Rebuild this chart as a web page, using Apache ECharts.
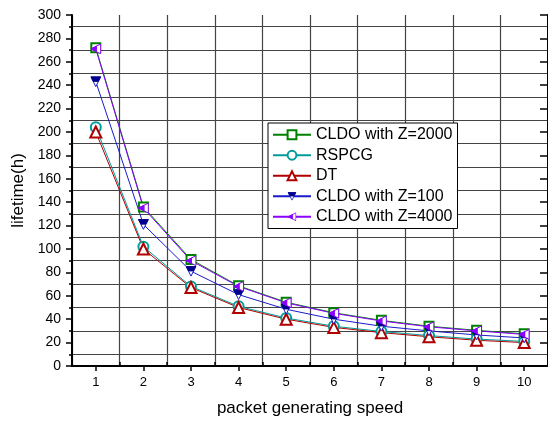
<!DOCTYPE html>
<html>
<head>
<meta charset="utf-8">
<script src="https://cdn.jsdelivr.net/npm/echarts@6/dist/echarts.min.js"></script>
<style>html,body{margin:0;padding:0;background:#fff;}#c{width:548px;height:423px;}</style>
</head>
<body>
<div id="c"></div>
<script>
var categories = ['1','2','3','4','5','6','7','8','9','10'];
var cldo2000 = [272, 136, 91, 68.5, 54.5, 45.5, 39, 34, 30.5, 27.5];
var rspcg = [204, 102, 68, 51, 41, 34, 29.5, 26, 23, 21];
var dt = [200, 100, 67, 50, 40, 33, 28.5, 25, 22, 20];
var cldo100 = [243, 121, 81, 61, 48.5, 40, 34, 30, 26.5, 24];
var cldo4000 = [271, 135, 90, 68, 54, 45, 38.5, 33.5, 30, 27];
var yTicks = [0, 300, 20];
var names = ['CLDO with Z=2000', 'RSPCG', 'DT', 'CLDO with Z=100', 'CLDO with Z=4000'];

function svgUrl(s) {
  return 'image://data:image/svg+xml;charset=utf-8,' + encodeURIComponent(s);
}
var downHalf = svgUrl("<svg xmlns='http://www.w3.org/2000/svg' width='11' height='11' viewBox='0 0 11 11'>" +
  "<polygon points='0.6,0.6 10.4,0.6 5.5,10.4' fill='white' stroke='#1a1acc' stroke-width='1'/>" +
  "<polygon points='0.6,0.6 10.4,0.6 8,5.3 3,5.3' fill='#00008b' stroke='#00008b' stroke-width='0.8'/></svg>");
var leftHalf = svgUrl("<svg xmlns='http://www.w3.org/2000/svg' width='11' height='11' viewBox='0 0 11 11'>" +
  "<polygon points='10.4,0.6 0.6,5.5 10.4,10.4' fill='white' stroke='#8a00ff' stroke-width='1'/>" +
  "<polygon points='0.6,5.5 6,2.8 6,8.2' fill='#8a00ff' stroke='#8a00ff' stroke-width='0.8'/>" +
  "<line x1='6' y1='2.8' x2='6' y2='8.2' stroke='#8a00ff' stroke-width='1'/></svg>");

function mk(name, data, color, symbol, size) {
  return {
    name: name, type: 'line', data: data,
    symbol: symbol, symbolSize: size, showSymbol: true,
    lineStyle: {color: color, width: 1},
    itemStyle: {color: color, borderWidth: 1},
    emphasis: {disabled: true}, animation: false
  };
}

var chart = echarts.init(document.getElementById('c'));
chart.setOption({
  backgroundColor: '#fff',
  animation: false,
  textStyle: {fontFamily: 'Liberation Sans, Arial, sans-serif'},
  grid: {left: 72, right: -6, top: 15, bottom: 57, containLabel: false},
  legend: {
    orient: 'vertical', left: 268, top: 123,
    data: names,
    itemWidth: 38, itemHeight: 11, itemGap: 3,
    padding: [3, 5, 3, 4],
    borderColor: '#000', borderWidth: 1, backgroundColor: '#fff',
    textStyle: {fontSize: 16, color: '#000', fontFamily: 'Liberation Sans, Arial, sans-serif', lineHeight: 17.5}
  },
  xAxis: [{
    type: 'category', data: categories, position: 'bottom', boundaryGap: true,
    name: 'packet generating speed', nameLocation: 'middle', nameGap: 34,
    nameTextStyle: {fontSize: 17, color: '#000'},
    axisLine: {show: true, lineStyle: {color: '#000', width: 2}},
    axisTick: {show: true, alignWithLabel: true, inside: false, length: 5, lineStyle: {color: '#000', width: 1.5}},
    axisLabel: {fontSize: 13, color: '#000', margin: 10},
    splitLine: {show: true, lineStyle: {color: '#444', width: 1.2}}
  }, {
    type: 'category', data: categories, position: 'top', boundaryGap: true,
    axisLine: {show: true, lineStyle: {color: '#000', width: 2}},
    axisTick: {show: true, alignWithLabel: true, inside: true, length: 5, lineStyle: {color: '#000', width: 1.5}},
    axisLabel: {show: false}, splitLine: {show: false}
  }, {
    type: 'category', data: categories, position: 'bottom', boundaryGap: true,
    axisLine: {show: false},
    axisTick: {show: true, alignWithLabel: false, inside: true, length: 4, lineStyle: {color: '#000', width: 1.5}},
    axisLabel: {show: false}, splitLine: {show: false}
  }],
  yAxis: [{
    type: 'value', min: yTicks[0], max: yTicks[1], interval: yTicks[2],
    name: 'lifetime(h)', nameLocation: 'middle', nameGap: 44,
    nameTextStyle: {fontSize: 17, color: '#000'},
    axisLine: {show: true, lineStyle: {color: '#000', width: 2}},
    axisTick: {show: true, inside: false, length: 6, lineStyle: {color: '#000', width: 1.5}},
    minorTick: {show: true, splitNumber: 2, length: 3, lineStyle: {color: '#000', width: 1.5}},
    axisLabel: {fontSize: 14, color: '#000', margin: 11},
    splitLine: {show: false},
    minorSplitLine: {show: true, lineStyle: {color: '#444', width: 1.2}}
  }, {
    type: 'value', position: 'right', min: yTicks[0], max: yTicks[1], interval: yTicks[2],
    axisLine: {show: true, lineStyle: {color: '#000', width: 2}},
    axisTick: {show: true, inside: true, length: 8, lineStyle: {color: '#000', width: 1.5}},
    axisLabel: {show: false}, splitLine: {show: false}
  }],
  series: [
    mk(names[0], cldo2000, '#008000', 'emptyRect', 9),
    mk(names[1], rspcg, '#009b9b', 'emptyCircle', 10),
    mk(names[2], dt, '#b00000', 'emptyTriangle', 11),
    mk(names[3], cldo100, '#1a1acc', downHalf, 11),
    mk(names[4], cldo4000, '#8a00ff', leftHalf, 11)
  ]
});
</script>
</body>
</html>
